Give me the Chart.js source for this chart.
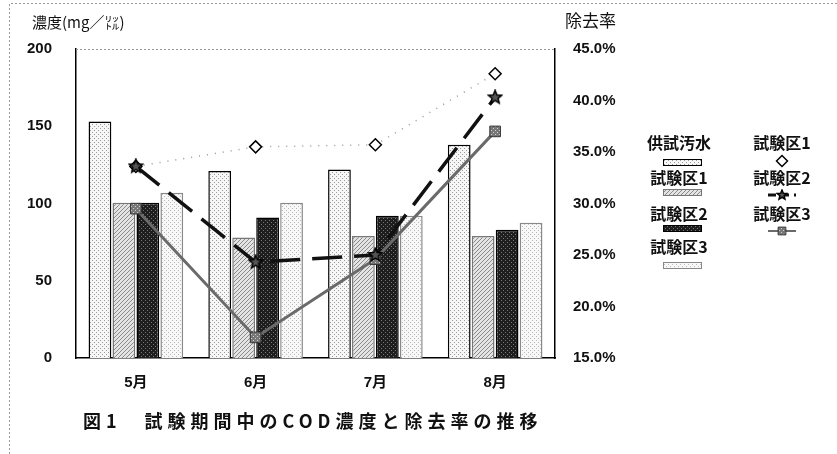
<!DOCTYPE HTML><html>
<head>
  <title>COD濃度と除去率</title>
  <meta charset="utf-8">
  <style>
  body { margin: 0; background: #fff; }
  canvas { display: block; }
  </style>
  <script src="https://cdn.jsdelivr.net/npm/chart.js"></script>
</head>
<body>
  <canvas id="cod-chart" width="837" height="454"></canvas>
<script>
  // months on the x axis
  var months = ['5月', '6月', '7月', '8月'];

  // COD concentration (mg/l), left axis
  var barNames = ['供試汚水', '試験区1', '試験区2', '試験区3'];
  var codRaw   = [153, 121, 122, 138];
  var codPlot1 = [100.5, 78, 79, 79];
  var codPlot2 = [100.5, 91, 92, 83];
  var codPlot3 = [107, 100.5, 92, 87.5];

  // removal rate (%), right axis
  var lineNames = ['試験区1', '試験区2', '試験区3'];
  var rate1 = [33.6, 35.5, 35.7, 42.6];
  var rate2 = [33.6, 24.3, 25.0, 40.3];
  var rate3 = [29.5, 17.0, 24.6, 37.0];

  var leftTicks = [0, 50, 100, 150, 200];
  var rightTicks = [15, 20, 25, 30, 35, 40, 45];

  var cjk = "'Noto Sans CJK JP', 'Noto Sans', sans-serif";
  var latin = "'Liberation Sans', Arial, 'Noto Sans CJK JP', sans-serif";

  // small stipple / hatch fills to look like the printed chart
  function makePattern(bg, fg, kind) {
    var c = document.createElement('canvas');
    c.width = 4; c.height = 4;
    var g = c.getContext('2d');
    g.fillStyle = bg;
    g.fillRect(0, 0, 4, 4);
    g.fillStyle = fg;
    if (kind == 'dots') {
      g.fillRect(0, 0, 1, 1);
      g.fillRect(2, 2, 1, 1);
    } else if (kind == 'hatch') {
      g.fillRect(3, 0, 1, 1);
      g.fillRect(2, 1, 1, 1);
      g.fillRect(1, 2, 1, 1);
      g.fillRect(0, 3, 1, 1);
    } else {
      g.fillRect(1, 0, 1, 1);
      g.fillRect(3, 2, 1, 1);
    }
    return g.createPattern(c, 'repeat');
  }

  // five-pointed star marker
  function makeStar(size) {
    var c = document.createElement('canvas');
    c.width = size; c.height = size;
    var g = c.getContext('2d');
    var r = size / 2 - 1, cx = size / 2, cy = size / 2;
    g.beginPath();
    for (var k = 0; k < 10; k++) {
      var rr = k % 2 ? r * 0.45 : r;
      var ang = -Math.PI / 2 + k * Math.PI / 5;
      g.lineTo(cx + rr * Math.cos(ang), cy + rr * Math.sin(ang));
    }
    g.closePath();
    g.fillStyle = '#555';
    g.fill();
    g.strokeStyle = '#000';
    g.lineWidth = 1.5;
    g.stroke();
    return c;
  }

  var ctx = document.getElementById('cod-chart').getContext('2d');
  var barFills = [
    makePattern('#f7f7f7', '#9a9a9a', 'dots'),
    makePattern('#e4e4e4', '#8a8a8a', 'hatch'),
    makePattern('#1e1e1e', '#777777', 'sparse'),
    makePattern('#f8f8f8', '#b8b8b8', 'dots')
  ];
  var barBorders = ['#000', '#777', '#000', '#888'];
  var squareFill = makePattern('#777', '#cfcfcf', 'sparse');
  var starImg = makeStar(16);
  var starKey = makeStar(12);

  var barSeries = [codRaw, codPlot1, codPlot2, codPlot3];
  var barSets = barSeries.map(function (vals, i) {
    return {
      type: 'bar',
      label: barNames[i],
      data: vals,
      yAxisID: 'y',
      backgroundColor: barFills[i],
      borderColor: barBorders[i],
      borderWidth: 1.5,
      borderSkipped: 'bottom',
      categoryPercentage: 0.8,
      barPercentage: 0.95,
      order: 5
    };
  });

  var lineSets = [
    {
      type: 'line', label: lineNames[0], data: rate1, yAxisID: 'y1',
      borderColor: '#999', borderWidth: 1.5, borderDash: [1, 7],
      pointStyle: 'rectRot', pointRadius: 6, pointBorderWidth: 1.5,
      pointBackgroundColor: '#fff', pointBorderColor: '#000', order: 3
    },
    {
      type: 'line', label: lineNames[1], data: rate2, yAxisID: 'y1',
      borderColor: '#111', borderWidth: 3.5, borderDash: [30, 12],
      pointStyle: starImg, pointRadius: 8,
      pointBackgroundColor: '#333', pointBorderColor: '#222', order: 1
    },
    {
      type: 'line', label: lineNames[2], data: rate3, yAxisID: 'y1',
      borderColor: '#6a6a6a', borderWidth: 3,
      pointStyle: 'rect', pointRadius: 7.5, pointBorderWidth: 1,
      pointBackgroundColor: squareFill, pointBorderColor: '#333', order: 2
    }
  ];

  // texts and the two-column legend drawn around the plot
  var extras = {
    id: 'extras',
    afterDraw: function (chart) {
      var c = chart.ctx, a = chart.chartArea;
      c.save();
      // outer frame of the scanned figure
      c.strokeStyle = '#999';
      c.lineWidth = 1;
      c.setLineDash([2, 2]);
      c.beginPath();
      c.moveTo(9.5, 454); c.lineTo(9.5, 3.5); c.lineTo(837, 3.5);
      c.stroke();
      // top edge of the plot
      c.beginPath();
      c.moveTo(a.left, a.top + 0.5); c.lineTo(a.right, a.top + 0.5);
      c.stroke();
      c.setLineDash([]);

      c.fillStyle = '#111';
      c.textBaseline = 'middle';
      c.textAlign = 'left';
      c.font = '15px ' + cjk;
      c.fillText('濃度(mg／㍑)', 32, 22);
      c.font = '17px ' + cjk;
      c.fillText('除去率', 565, 21);

      c.font = 'bold 18px ' + cjk;
      if ('letterSpacing' in c) c.letterSpacing = '5px';
      c.fillText('図1　試験期間中のCOD濃度と除去率の推移', 83, 421);
      if ('letterSpacing' in c) c.letterSpacing = '0px';

      // legend, text above its symbol
      c.textAlign = 'center';
      c.font = 'bold 16px ' + cjk;
      var barRows = [143, 178, 214, 247];
      var barKeys = [162, 192, 228, 265];
      barNames.forEach(function (n, i) {
        c.fillStyle = '#111';
        c.fillText(n, 679, barRows[i]);
        var ds = chart.data.datasets[i];
        c.fillStyle = ds.backgroundColor;
        c.fillRect(663, barKeys[i] - 3, 38, 6);
        c.strokeStyle = ds.borderColor;
        c.lineWidth = 1;
        c.strokeRect(663.5, barKeys[i] - 2.5, 38, 6);
      });
      var lineRows = [143, 178, 214];
      var lineKeys = [161, 195, 231];
      lineNames.forEach(function (n, i) {
        c.fillStyle = '#111';
        c.fillText(n, 782, lineRows[i]);
        var ds = chart.data.datasets[4 + i];
        var y = lineKeys[i];
        if (i > 0) {
          c.strokeStyle = ds.borderColor;
          c.lineWidth = i == 1 ? 3 : 2;
          c.setLineDash(i == 1 ? [8, 5] : []);
          c.beginPath(); c.moveTo(768, y); c.lineTo(796, y); c.stroke();
          c.setLineDash([]);
        }
        if (i == 1) {
          c.drawImage(starKey, 782 - 6, y - 6);
        } else {
          c.fillStyle = ds.pointBackgroundColor;
          c.strokeStyle = ds.pointBorderColor;
          c.lineWidth = ds.pointBorderWidth;
          Chart.helpers.drawPoint(c, {
            pointStyle: ds.pointStyle, radius: 5.5, rotation: 0,
            borderWidth: ds.pointBorderWidth
          }, 782, y);
        }
      });
      c.restore();
    }
  };

  var myChart = new Chart(ctx, {
    data: {
      labels: months,
      datasets: barSets.concat(lineSets)
    },
    options: {
      responsive: false,
      animation: false,
      layout: { padding: { left: 20, right: 212, top: 49, bottom: 56 } },
      plugins: {
        legend: { display: false },
        tooltip: { enabled: false },
        title: { display: false }
      },
      scales: {
        x: {
          grid: { display: false },
          border: { display: true, color: '#000', width: 1.5 },
          ticks: { color: '#111', padding: 8, font: { family: latin, size: 15, weight: 'bold' } },
          afterFit: function (s) { s.height = 40; }
        },
        y: {
          position: 'left',
          min: 0, max: 200,
          afterBuildTicks: function (s) { s.ticks = leftTicks.map(function (v) { return { value: v }; }); },
          grid: { display: false },
          border: { display: true, color: '#000', width: 1.5 },
          ticks: { color: '#111', padding: 16, font: { family: latin, size: 15, weight: 'bold' } },
          afterFit: function (s) { s.width = 56; }
        },
        y1: {
          position: 'right',
          min: 15, max: 45,
          afterBuildTicks: function (s) { s.ticks = rightTicks.map(function (v) { return { value: v }; }); },
          grid: { display: false },
          border: { display: true, color: '#000', width: 1.5 },
          ticks: {
            color: '#111', padding: 10,
            font: { family: latin, size: 15, weight: 'bold' },
            callback: function (v) { return v.toFixed(1) + '%'; }
          },
          afterFit: function (s) { s.width = 70; }
        }
      }
    },
    plugins: [extras]
  });
</script>
</body>
</html>
